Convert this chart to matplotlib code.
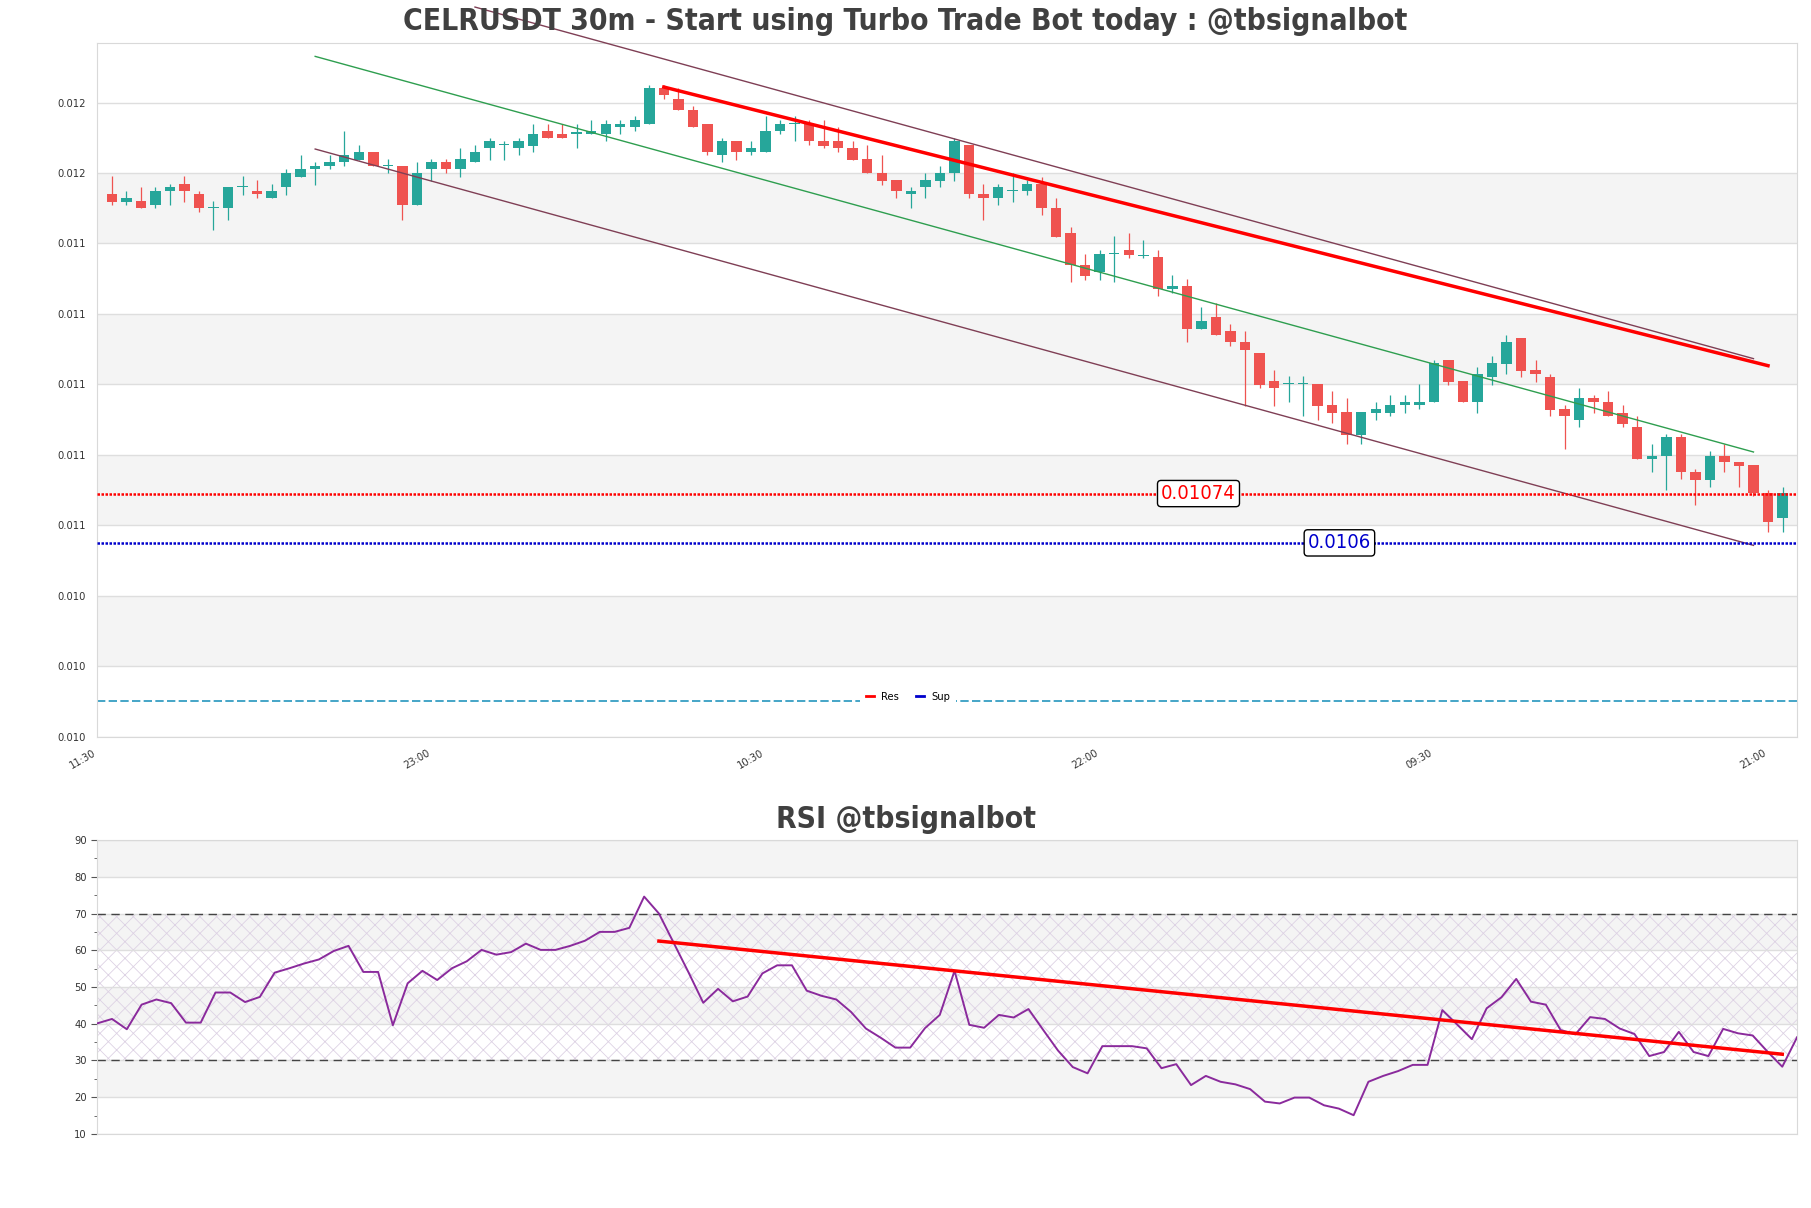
import matplotlib
matplotlib.use('Agg')
import matplotlib.pyplot as plt
from matplotlib.lines import Line2D
import numpy as np

plt.rcParams['font.family'] = ['DejaVu Sans']
plt.rcParams['font.stretch'] = 'condensed'
plt.rcParams['hatch.linewidth'] = 0.6

# 30m candles, oldest first
opens = [0.011591, 0.011569, 0.011571, 0.011558, 0.011598, 0.011620, 0.011591, 0.011550, 0.011550, 0.011609,
         0.011600, 0.011578, 0.011609, 0.011640, 0.011660, 0.011669, 0.011680, 0.011688, 0.011710, 0.011671,
         0.011671, 0.011558, 0.011660, 0.011682, 0.011660, 0.011680, 0.011720, 0.011730, 0.011720, 0.011728,
         0.011770, 0.011762, 0.011762, 0.011760, 0.011760, 0.011780, 0.011780, 0.011788, 0.011892, 0.011860,
         0.011830, 0.011790, 0.011700, 0.011742, 0.011709, 0.011709, 0.011768, 0.011790, 0.011790, 0.011742,
         0.011742, 0.011722, 0.011691, 0.011650, 0.011631, 0.011589, 0.011609, 0.011628, 0.011650, 0.011730,
         0.011589, 0.011578, 0.011600, 0.011598, 0.011620, 0.011550, 0.011480, 0.011390, 0.011368, 0.011421,
         0.011432, 0.011413, 0.011411, 0.011321, 0.011330, 0.011208, 0.011241, 0.011202, 0.011170, 0.011139,
         0.011060, 0.011051, 0.011051, 0.011051, 0.010992, 0.010972, 0.010907, 0.010970, 0.010970, 0.010990,
         0.010990, 0.010999, 0.011120, 0.011060, 0.010999, 0.011070, 0.011109, 0.011181, 0.011090, 0.011070,
         0.010980, 0.010950, 0.011011, 0.011000, 0.010970, 0.010928, 0.010839, 0.010847, 0.010900, 0.010801,
         0.010779, 0.010848, 0.010829, 0.010820, 0.010741, 0.010670]
highs = [0.011642, 0.011600, 0.011611, 0.011611, 0.011620, 0.011642, 0.011600, 0.011571, 0.011611, 0.011642,
         0.011631, 0.011620, 0.011662, 0.011702, 0.011682, 0.011702, 0.011770, 0.011730, 0.011710, 0.011691,
         0.011671, 0.011682, 0.011691, 0.011691, 0.011722, 0.011730, 0.011750, 0.011742, 0.011750, 0.011790,
         0.011790, 0.011790, 0.011790, 0.011801, 0.011801, 0.011801, 0.011811, 0.011901, 0.011901, 0.011892,
         0.011841, 0.011790, 0.011750, 0.011742, 0.011742, 0.011811, 0.011801, 0.011811, 0.011801, 0.011801,
         0.011780, 0.011742, 0.011730, 0.011702, 0.011631, 0.011609, 0.011650, 0.011671, 0.011750, 0.011730,
         0.011620, 0.011620, 0.011650, 0.011631, 0.011640, 0.011578, 0.011498, 0.011421, 0.011432, 0.011472,
         0.011480, 0.011461, 0.011432, 0.011361, 0.011349, 0.011270, 0.011281, 0.011221, 0.011202, 0.011139,
         0.011092, 0.011073, 0.011073, 0.011051, 0.011032, 0.011011, 0.010972, 0.011000, 0.011021, 0.011021,
         0.011051, 0.011120, 0.011120, 0.011060, 0.011100, 0.011131, 0.011191, 0.011181, 0.011120, 0.011079,
         0.010992, 0.011040, 0.011021, 0.011030, 0.010992, 0.010959, 0.010881, 0.010910, 0.010910, 0.010811,
         0.010862, 0.010881, 0.010829, 0.010820, 0.010751, 0.010760]
lows = [0.011558, 0.011558, 0.011550, 0.011550, 0.011558, 0.011569, 0.011538, 0.011489, 0.011517, 0.011588,
        0.011578, 0.011578, 0.011588, 0.011640, 0.011617, 0.011660, 0.011669, 0.011688, 0.011669, 0.011650,
        0.011517, 0.011558, 0.011628, 0.011650, 0.011640, 0.011680, 0.011688, 0.011688, 0.011700, 0.011709,
        0.011748, 0.011748, 0.011720, 0.011760, 0.011740, 0.011760, 0.011768, 0.011788, 0.011860, 0.011828,
        0.011780, 0.011700, 0.011680, 0.011688, 0.011700, 0.011709, 0.011760, 0.011740, 0.011730, 0.011720,
        0.011709, 0.011688, 0.011650, 0.011617, 0.011578, 0.011550, 0.011578, 0.011609, 0.011628, 0.011578,
        0.011517, 0.011558, 0.011569, 0.011588, 0.011530, 0.011469, 0.011340, 0.011347, 0.011347, 0.011340,
        0.011410, 0.011410, 0.011300, 0.011309, 0.011169, 0.011208, 0.011189, 0.011158, 0.010989, 0.011039,
        0.010989, 0.010999, 0.010959, 0.010950, 0.010940, 0.010882, 0.010882, 0.010950, 0.010959, 0.010970,
        0.010980, 0.010999, 0.011049, 0.010999, 0.010970, 0.011049, 0.011078, 0.011070, 0.011058, 0.010959,
        0.010867, 0.010928, 0.010970, 0.010959, 0.010928, 0.010839, 0.010800, 0.010749, 0.010781, 0.010708,
        0.010760, 0.010800, 0.010760, 0.010732, 0.010630, 0.010630]
closes = [0.011569, 0.011580, 0.011550, 0.011600, 0.011611, 0.011598, 0.011550, 0.011551, 0.011611, 0.011610,
          0.011589, 0.011600, 0.011650, 0.011662, 0.011671, 0.011682, 0.011702, 0.011710, 0.011669, 0.011672,
          0.011558, 0.011650, 0.011682, 0.011660, 0.011691, 0.011710, 0.011742, 0.011731, 0.011742, 0.011762,
          0.011748, 0.011748, 0.011763, 0.011770, 0.011790, 0.011790, 0.011801, 0.011892, 0.011870, 0.011828,
          0.011780, 0.011709, 0.011742, 0.011709, 0.011722, 0.011770, 0.011790, 0.011791, 0.011740, 0.011728,
          0.011720, 0.011688, 0.011650, 0.011628, 0.011598, 0.011600, 0.011631, 0.011650, 0.011742, 0.011589,
          0.011578, 0.011609, 0.011601, 0.011620, 0.011550, 0.011469, 0.011388, 0.011359, 0.011421, 0.011422,
          0.011418, 0.011414, 0.011321, 0.011330, 0.011208, 0.011231, 0.011189, 0.011169, 0.011148, 0.011049,
          0.011039, 0.011052, 0.011052, 0.010989, 0.010970, 0.010907, 0.010972, 0.010980, 0.010992, 0.011000,
          0.011000, 0.011111, 0.011058, 0.010999, 0.011079, 0.011111, 0.011170, 0.011089, 0.011078, 0.010978,
          0.010959, 0.011011, 0.010999, 0.010959, 0.010938, 0.010839, 0.010848, 0.010900, 0.010800, 0.010779,
          0.010848, 0.010829, 0.010819, 0.010741, 0.010658, 0.010741]

rsi = [40.1, 41.3, 38.5, 45.2, 46.6, 45.6, 40.3, 40.3, 48.5, 48.5,
       45.9, 47.3, 53.9, 55.1, 56.4, 57.5, 59.8, 61.2, 54.1, 54.1,
       39.6, 51.0, 54.4, 51.9, 55.1, 57.0, 60.1, 58.8, 59.5, 61.8,
       60.1, 60.1, 61.2, 62.6, 65.0, 65.0, 66.1, 74.6, 70.0, 62.0,
       54.0, 45.7, 49.5, 46.1, 47.4, 53.7, 55.9, 55.9, 49.0, 47.6,
       46.6, 43.2, 38.7, 36.2, 33.5, 33.5, 38.8, 42.4, 54.4, 39.7,
       38.9, 42.4, 41.7, 44.0, 38.3, 32.7, 28.2, 26.5, 33.9, 33.9,
       33.9, 33.3, 27.9, 29.0, 23.3, 25.8, 24.2, 23.5, 22.2, 18.8,
       18.3, 19.9, 19.9, 17.8, 16.9, 15.1, 24.2, 25.8, 27.1, 28.8,
       28.8, 43.7, 39.8, 35.8, 44.2, 47.2, 52.2, 46.0, 45.2, 38.3,
       37.1, 41.8, 41.3, 38.7, 37.2, 31.2, 32.3, 37.8, 32.3, 31.2,
       38.6, 37.4, 36.8, 32.4, 28.3, 36.3]

res_level = 0.01074
sup_level = 0.0106
base_level = 0.01015

# trend lines as (x0, y0, x1, y1) in candle index / price
price_trend = (38, 0.011894, 114, 0.011103)
chan_upper = (25, 0.012121, 113, 0.011123)
chan_mid = (14, 0.011981, 113, 0.010858)
chan_lower = (14, 0.011718, 113, 0.010593)
rsi_trend = (38, 62.5, 114, 31.7)

xtick_pos = [-1, 22, 45, 68, 91, 114]
xtick_labels = ['11:30', '23:00', '10:30', '22:00', '09:30', '21:00']
yticks = [0.01005, 0.01025, 0.01045, 0.01065, 0.01085, 0.01105, 0.01125, 0.01145, 0.01165, 0.01185]
rsi_ticks = [10, 20, 30, 40, 50, 60, 70, 80, 90]

GREEN = '#26a69a'
RED = '#ef5350'
BAND = '#f4f4f4'
GRID = '#dedede'
TXT = '#333333'

fig = plt.figure(figsize=(18.11, 12.08), dpi=100)
ax = fig.add_axes([0.0537, 0.3902, 0.9386, 0.5745])
ax2 = fig.add_axes([0.0537, 0.0613, 0.9386, 0.2433])

# ---- price panel
o = np.array(opens); h = np.array(highs); l = np.array(lows); c = np.array(closes)
x = np.arange(len(o))
cols = np.where(c >= o, GREEN, RED)
ax.vlines(x, l, h, colors=cols, lw=0.9, zorder=3)
ax.bar(x, np.maximum(np.abs(c - o), 0.000003), 0.72, bottom=np.minimum(o, c),
       color=cols, linewidth=0, zorder=4)

for i in range(1, 8, 2):
    ax.axhspan(yticks[i], yticks[i + 1], color=BAND, zorder=0, lw=0)
ax.set_yticks(yticks)
ax.set_yticklabels(['%.3f' % v for v in yticks])
ax.grid(axis='y', color=GRID, lw=1, zorder=1)
ax.set_xticks(xtick_pos)
ax.set_xticklabels(xtick_labels, rotation=30, ha='right')
ax.set_xlim(-1, 116)
ax.set_ylim(0.01005, 0.01202)

for ln, col in [(chan_upper, '#7f3f55'), (chan_lower, '#7f3f55'), (chan_mid, '#2e9e4f')]:
    ax.plot([ln[0], ln[2]], [ln[1], ln[3]], color=col, lw=1, zorder=5, clip_on=False)
ax.plot([price_trend[0], price_trend[2]], [price_trend[1], price_trend[3]], color='red', lw=2.5, zorder=6)

ax.axhline(res_level, color='red', ls=(0, (1, 0.6)), lw=1.8, zorder=5)
ax.axhline(sup_level, color='#0000cc', ls=(0, (1, 0.6)), lw=1.8, zorder=5)
ax.axhline(base_level, color='#2596be', ls=(0, (5, 2)), lw=1.2, zorder=2)
box = dict(boxstyle='round,pad=0.18', fc='white', ec='black', lw=1)
ax.text(74.8, res_level, '0.01074', color='red', fontsize=14.5, ha='center', va='center', bbox=box, zorder=7)
ax.text(84.5, sup_level, '0.0106', color='#0000cc', fontsize=14.5, ha='center', va='center', bbox=box, zorder=7)

handles = [Line2D([0], [0], color='red', lw=2), Line2D([0], [0], color='#0000cc', lw=2)]
ax.legend(handles, ['Res', 'Sup'], loc='center', bbox_to_anchor=(0.477, 0.057), ncol=2, fontsize=8,
          frameon=True, facecolor='white', edgecolor='none', framealpha=1, handlelength=0.7,
          handletextpad=0.6, columnspacing=1.6, borderpad=0.6)

ax.tick_params(axis='both', length=0, labelsize=8, labelcolor=TXT, pad=8)
for s in ax.spines.values():
    s.set_color('#d9d9d9')

# ---- RSI panel
xr = np.arange(len(rsi))
for lo in [20, 40, 60, 80]:
    ax2.axhspan(lo, lo + 10, color=BAND, zorder=0, lw=0)
ax2.fill_between([0, len(rsi) - 1], 30, 70, facecolor='none', hatch='xx', edgecolor='#ddd2e4', lw=0, zorder=1)
ax2.grid(axis='y', color=GRID, lw=1, zorder=1)
ax2.axhline(70, color='#444444', ls=(0, (6, 4)), lw=1, zorder=2)
ax2.axhline(30, color='#444444', ls=(0, (6, 4)), lw=1, zorder=2)
ax2.plot(xr, rsi, color='#8a2a9c', lw=1.4, zorder=4)
ax2.plot([rsi_trend[0], rsi_trend[2]], [rsi_trend[1], rsi_trend[3]], color='red', lw=2.5, zorder=5)
ax2.set_xlim(0, len(rsi) - 1)
ax2.set_ylim(10, 90)
ax2.set_yticks(rsi_ticks)
ax2.set_yticks(np.arange(15, 90, 10), minor=True)
ax2.set_xticks([])
ax2.tick_params(axis='y', which='major', length=4, color='#555555', labelsize=8, labelcolor=TXT)
ax2.tick_params(axis='y', which='minor', length=2, color='#555555')
for s in ax2.spines.values():
    s.set_color('#d9d9d9')

fig.text(0.5, 0.982, 'CELRUSDT 30m - Start using Turbo Trade Bot today : @tbsignalbot', ha='center',
         va='center', fontsize=21.5, fontweight='bold', color='#404040')
fig.text(0.5, 0.322, 'RSI @tbsignalbot', ha='center', va='center', fontsize=21.5, fontweight='bold',
         color='#404040')

fig.savefig('out.png', dpi=100)
